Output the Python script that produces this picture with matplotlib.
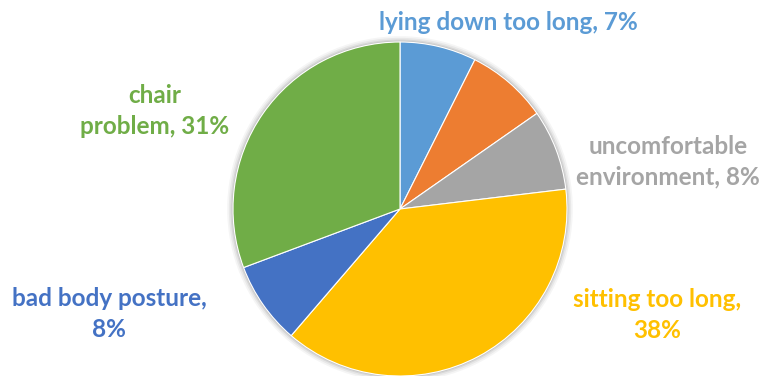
import matplotlib
matplotlib.use("Agg")
import matplotlib.pyplot as plt
from matplotlib.patches import Circle

categories = ["lying down too long", "other", "uncomfortable environment",
              "sitting too long", "bad body posture", "chair problem"]
values = [7.4, 7.9, 7.8, 38.2, 8.0, 30.7]
colors = ["#5B9BD5", "#ED7D31", "#A5A5A5", "#FFC000", "#4472C4", "#70AD47"]
show_label = [True, False, True, True, True, True]
label_text = ["lying down too long", None, "uncomfortable\nenvironment",
              "sitting too long,\n", "bad body posture,\n", "chair\nproblem"]

W, H = 765, 376
fig = plt.figure(figsize=(W / 100, H / 100), dpi=100)
cx, cy, r = 400, 209, 167
ax = fig.add_axes([(cx - r) / W, (H - cy - r) / H, 2 * r / W, 2 * r / H])

# soft shadow
for k, a in [(1.035, 0.04), (1.025, 0.05), (1.015, 0.07), (1.007, 0.09)]:
    ax.add_patch(Circle((0, 0), k, color="#000000", alpha=a, lw=0, clip_on=False, zorder=0))

wedges, _ = ax.pie(values, colors=colors, startangle=90, counterclock=False,
                   radius=1, wedgeprops=dict(edgecolor="white", linewidth=0.8))
for w in wedges:
    w.set_zorder(2)
ax.set_xlim(-1, 1)
ax.set_ylim(-1, 1)
ax.set_aspect("equal")
ax.axis("off")

total = sum(values)
pct = [round(v / total * 100) for v in values]

font = dict(family=["Lato", "DejaVu Sans"], fontweight="bold", fontsize=17.5)
positions = {
    0: (508, 22),
    2: (668, 162),
    3: (657, 315),
    4: (109, 314),
    5: (155, 111),
}
for i, show in enumerate(show_label):
    if not show:
        continue
    t = label_text[i]
    if t.endswith("\n"):
        txt = f"{t}{pct[i]}%"
    else:
        txt = f"{t}, {pct[i]}%"
    x, y = positions[i]
    fig.text(x / W, 1 - y / H, txt, color=colors[i], ha="center", va="center",
             linespacing=1.38, **font)

fig.savefig("out.png", dpi=100)
